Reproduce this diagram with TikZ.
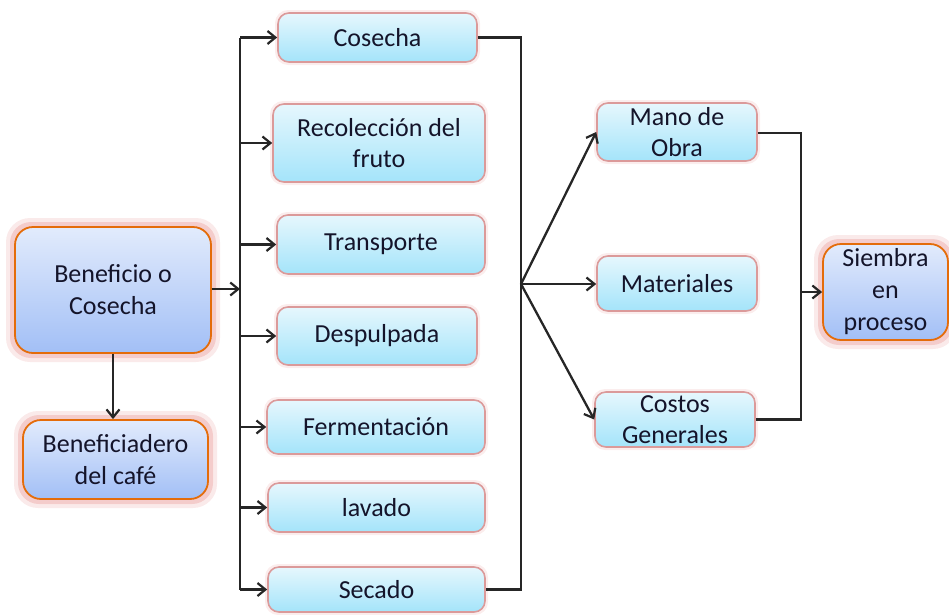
\documentclass[tikz,border=0pt]{standalone}
\usepackage{fontspec}
\setmainfont{Carlito}
\usetikzlibrary{arrows.meta}
\definecolor{orangeb}{HTML}{E46C0A}
\definecolor{glowc}{HTML}{D9534F}
\definecolor{pinkb}{HTML}{DB9A9A}
\definecolor{btop}{HTML}{E2EBFC}
\definecolor{bbot}{HTML}{A2BFF6}
\definecolor{ctop}{HTML}{E6F7FD}
\definecolor{cbot}{HTML}{A4E4FA}
\definecolor{txt}{HTML}{14142A}
\tikzset{
  bigbox/.style={rounded corners=18pt, draw=orangeb, line width=1.8pt,
    top color=btop, bottom color=bbot, align=center, text=txt,
    font=\fontsize{26}{32}\selectfont, inner sep=0pt},
  smallbox/.style={rounded corners=11pt, draw=pinkb, line width=1.6pt,
    top color=ctop, bottom color=cbot, align=center, text=txt,
    font=\fontsize{26}{31}\selectfont, inner sep=0pt},
  conn/.style={line width=2.3pt, draw=black!85},
  arr/.style={conn, -{Straight Barb[length=8pt,width=13pt,line width=2.2pt]}},
}
\newcommand{\glowbox}[6]{% name, cx, cy, w, h, radius
  \fill[glowc, opacity=0.12, rounded corners=#6+6pt] (#2-#4/2-9,#3-#5/2-9) rectangle (#2+#4/2+9,#3+#5/2+9);
  \fill[glowc, opacity=0.2, rounded corners=#6+3pt] (#2-#4/2-5,#3-#5/2-5) rectangle (#2+#4/2+5,#3+#5/2+5);
}
\newcommand{\softbox}[5]{% cx, cy, w, h, radius
  \fill[glowc, opacity=0.10, rounded corners=#5+2pt] (#1-#3/2-3,#2-#4/2-3) rectangle (#1+#3/2+3,#2+#4/2+3);
}
\begin{document}
\begin{tikzpicture}[x=1pt,y=-1pt]
\useasboundingbox (0,0) rectangle (949,614);
% glows
\glowbox{ben}{113}{290}{196}{126}{18pt}
\glowbox{benef}{115.5}{459.5}{185}{79}{18pt}
\glowbox{sie}{885.5}{292}{125}{96}{18pt}
\softbox{377.5}{37.5}{199}{49}{11pt}
\softbox{379}{143}{212}{78}{11pt}
\softbox{381}{244.5}{208}{59}{11pt}
\softbox{377}{336}{200}{58}{11pt}
\softbox{376}{427}{218}{54}{11pt}
\softbox{376.5}{507.5}{217}{49}{11pt}
\softbox{376.5}{589.5}{217}{45}{11pt}
\softbox{677}{132}{160}{58}{11pt}
\softbox{677}{283.5}{160}{55}{11pt}
\softbox{675}{419.5}{160}{55}{11pt}
% left boxes
\node[bigbox, minimum width=196pt, minimum height=126pt] (ben) at (113,290) {Beneficio o\\Cosecha};
\node[bigbox, minimum width=185pt, minimum height=79pt] (benef) at (115.5,459.5) {Beneficiadero\\del café};
% middle boxes
\node[smallbox, minimum width=199pt, minimum height=49pt] (cos) at (377.5,37.5) {Cosecha};
\node[smallbox, minimum width=212pt, minimum height=78pt] (rec) at (379,143) {Recolección del\\fruto};
\node[smallbox, minimum width=208pt, minimum height=59pt] (tra) at (381,244.5) {Transporte};
\node[smallbox, minimum width=200pt, minimum height=58pt] (des) at (377,336) {Despulpada};
\node[smallbox, minimum width=218pt, minimum height=54pt] (fer) at (376,427) {Fermentación};
\node[smallbox, minimum width=217pt, minimum height=49pt] (lav) at (376.5,507.5) {lavado};
\node[smallbox, minimum width=217pt, minimum height=45pt] (sec) at (376.5,589.5) {Secado};
% right boxes
\node[smallbox, minimum width=160pt, minimum height=58pt] (mano) at (677,132) {Mano de\\Obra};
\node[smallbox, minimum width=160pt, minimum height=55pt] (mat) at (677,283.5) {Materiales};
\node[smallbox, minimum width=160pt, minimum height=55pt] (cg) at (675,419.5) {Costos\\Generales};
\node[bigbox, minimum width=125pt, minimum height=96pt] (sie) at (885.5,292) {Siembra\\en\\proceso};
% coordinates
\coordinate (busTop) at (240,37.5);
\coordinate (busBot) at (240,589.5);
\coordinate (busIn) at (240,289);
\coordinate (rTop) at (521,37.5);
\coordinate (rBot) at (521,589.5);
\coordinate (hub) at (521,284);
\coordinate (r2Top) at (801,133);
\coordinate (r2Bot) at (801,419.5);
\coordinate (r2Mid) at (801,292);
% left bus
\draw[conn] (busTop) -- (busBot);
\draw[arr] (ben.east |- busIn) -- (busIn);
\draw[arr] (ben.south) -- (ben.south |- benef.north);
\foreach \n in {cos,rec,tra,des,fer,lav,sec}{
  \draw[arr] (busTop |- \n.west) -- (\n.west);
}
% right bus
\draw[conn] (cos.east) -- (rTop) -- (rBot) -- (sec.east);
\draw[arr] (hub) -- (mano.west);
\draw[arr] (hub) -- (mat.west |- hub);
\draw[arr] (hub) -- (cg.west);
% second bus
\draw[conn] (mano.east |- r2Top) -- (r2Top) -- (r2Bot) -- (cg.east);
\draw[arr] (r2Mid) -- (sie.west |- r2Mid);
\end{tikzpicture}
\end{document}
